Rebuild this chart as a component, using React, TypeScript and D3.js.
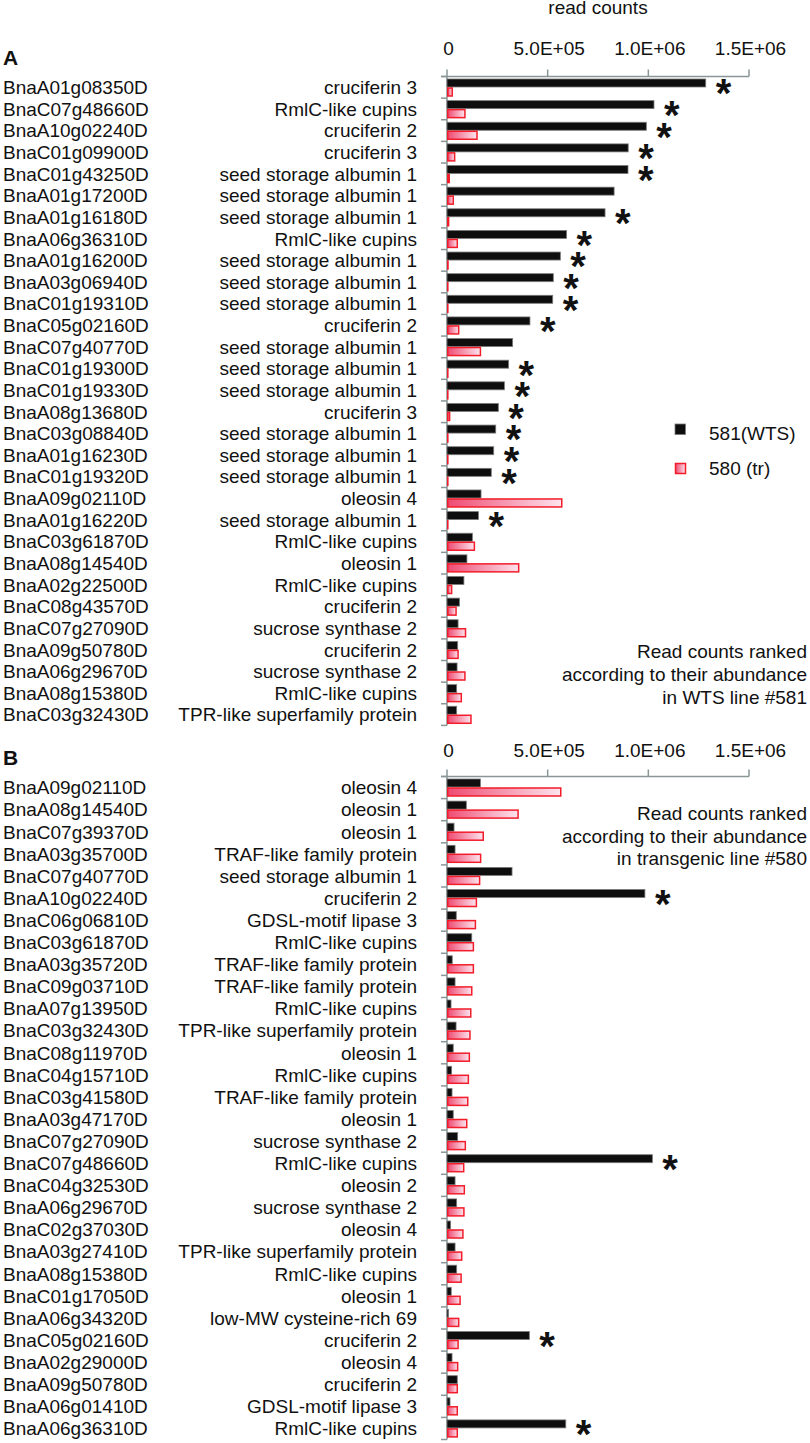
import React from "react";
import * as d3 from "d3";

// ---------- Data ----------
const tickValues = [0, 5e5, 1e6, 1.5e6];
const tickLabels = ["0", "5.0E+05", "1.0E+06", "1.5E+06"];
const seriesNames = ["581(WTS)", "580 (tr)"];

const idsA = [
  "BnaA01g08350D", "BnaC07g48660D", "BnaA10g02240D", "BnaC01g09900D", "BnaC01g43250D",
  "BnaA01g17200D", "BnaA01g16180D", "BnaA06g36310D", "BnaA01g16200D", "BnaA03g06940D",
  "BnaC01g19310D", "BnaC05g02160D", "BnaC07g40770D", "BnaC01g19300D", "BnaC01g19330D",
  "BnaA08g13680D", "BnaC03g08840D", "BnaA01g16230D", "BnaC01g19320D", "BnaA09g02110D",
  "BnaA01g16220D", "BnaC03g61870D", "BnaA08g14540D", "BnaA02g22500D", "BnaC08g43570D",
  "BnaC07g27090D", "BnaA09g50780D", "BnaA06g29670D", "BnaA08g15380D", "BnaC03g32430D",
];
const descA = [
  "cruciferin 3", "RmlC-like cupins", "cruciferin 2", "cruciferin 3", "seed storage albumin 1",
  "seed storage albumin 1", "seed storage albumin 1", "RmlC-like cupins", "seed storage albumin 1", "seed storage albumin 1",
  "seed storage albumin 1", "cruciferin 2", "seed storage albumin 1", "seed storage albumin 1", "seed storage albumin 1",
  "cruciferin 3", "seed storage albumin 1", "seed storage albumin 1", "seed storage albumin 1", "oleosin 4",
  "seed storage albumin 1", "RmlC-like cupins", "oleosin 1", "RmlC-like cupins", "cruciferin 2",
  "sucrose synthase 2", "cruciferin 2", "sucrose synthase 2", "RmlC-like cupins", "TPR-like superfamily protein",
];
const wtsA = [
  1285000, 1028000, 990000, 900000, 899000, 830000, 785000, 594000, 563000, 528000,
  525000, 412000, 326000, 306000, 285000, 255000, 242000, 232000, 220000, 169000,
  156000, 126000, 99000, 84000, 62000, 55000, 53000, 50000, 48000, 48000,
];
const trA = [
  26000, 89000, 149000, 38000, 11000, 31000, 8000, 51000, 5000, 3000,
  3000, 58000, 166000, 3000, 1000, 13000, 2000, 1000, 1000, 570000,
  1000, 136000, 356000, 23000, 45000, 92000, 55000, 89000, 71000, 119000,
];
const sigA = [
  1, 1, 1, 1, 1, 0, 1, 1, 1, 1,
  1, 1, 0, 1, 1, 1, 1, 1, 1, 0,
  1, 0, 0, 0, 0, 0, 0, 0, 0, 0,
];

const idsB = [
  "BnaA09g02110D", "BnaA08g14540D", "BnaC07g39370D", "BnaA03g35700D", "BnaC07g40770D",
  "BnaA10g02240D", "BnaC06g06810D", "BnaC03g61870D", "BnaA03g35720D", "BnaC09g03710D",
  "BnaA07g13950D", "BnaC03g32430D", "BnaC08g11970D", "BnaC04g15710D", "BnaC03g41580D",
  "BnaA03g47170D", "BnaC07g27090D", "BnaC07g48660D", "BnaC04g32530D", "BnaA06g29670D",
  "BnaC02g37030D", "BnaA03g27410D", "BnaA08g15380D", "BnaC01g17050D", "BnaA06g34320D",
  "BnaC05g02160D", "BnaA02g29000D", "BnaA09g50780D", "BnaA06g01410D", "BnaA06g36310D",
];
const descB = [
  "oleosin 4", "oleosin 1", "oleosin 1", "TRAF-like family protein", "seed storage albumin 1",
  "cruciferin 2", "GDSL-motif lipase 3", "RmlC-like cupins", "TRAF-like family protein", "TRAF-like family protein",
  "RmlC-like cupins", "TPR-like superfamily protein", "oleosin 1", "RmlC-like cupins", "TRAF-like family protein",
  "oleosin 1", "sucrose synthase 2", "RmlC-like cupins", "oleosin 2", "sucrose synthase 2",
  "oleosin 4", "TPR-like superfamily protein", "RmlC-like cupins", "oleosin 1", "low-MW cysteine-rich 69",
  "cruciferin 2", "oleosin 4", "cruciferin 2", "GDSL-motif lipase 3", "RmlC-like cupins",
];
const wtsB = [
  166000, 96000, 35000, 40000, 323000, 983000, 46000, 123000, 26000, 40000,
  20000, 45000, 31000, 23000, 25000, 31000, 53000, 1020000, 40000, 48000,
  18000, 40000, 48000, 21000, 8000, 409000, 25000, 51000, 15000, 590000,
];
const trB = [
  565000, 353000, 180000, 167000, 162000, 146000, 141000, 131000, 131000, 123000,
  118000, 114000, 111000, 106000, 103000, 98000, 91000, 83000, 86000, 84000,
  79000, 73000, 70000, 65000, 58000, 55000, 53000, 51000, 51000, 51000,
];
const sigB = [
  0, 0, 0, 0, 0, 1, 0, 0, 0, 0,
  0, 0, 0, 0, 0, 0, 0, 1, 0, 0,
  0, 0, 0, 0, 0, 1, 0, 0, 0, 1,
];

// ---------- Styling ----------
const FONT = "'Liberation Sans', Arial, Helvetica, sans-serif";
const AXIS = "#8a9696";
const W = 810;
const H = 1443;

type PanelProps = {
  letter: string;
  ids: string[];
  desc: string[];
  wts: number[];
  tr: number[];
  sig: number[];
  axisY: number;
  step: number;
  tickLabelY: number;
  letterY: number;
  note: string[];
  noteY: number;
  noteStep: number;
  showTitle?: boolean;
  showLegend?: boolean;
};

function Panel(p: PanelProps) {
  const x = d3.scaleLinear().domain([0, 1.5e6]).range([447, 749]);
  const n = p.ids.length;
  const y = d3
    .scaleBand<number>()
    .domain(d3.range(n))
    .range([p.axisY, p.axisY + n * p.step])
    .padding(0);
  const bw = y.bandwidth();
  const x0 = x(0);
  const boundaries = d3.range(n + 1).map((i) => p.axisY + i * bw);

  return (
    <g>
      <text x={3} y={p.letterY} fontFamily={FONT} fontWeight="bold" fontSize={21} fill="#111">
        {p.letter}
      </text>
      {p.showTitle && (
        <text x={598} y={13.5} textAnchor="middle" fontFamily={FONT} fontSize={19} fill="#111">
          read counts
        </text>
      )}
      {/* tick labels */}
      {tickValues.map((v, i) => (
        <text
          key={"tl" + i}
          x={x(v) + 1.5}
          y={p.tickLabelY}
          textAnchor="middle"
          fontFamily={FONT}
          fontSize={19}
          fill="#111"
        >
          {tickLabels[i]}
        </text>
      ))}
      {/* top axis */}
      <line x1={x0 - 6} x2={x(1.5e6)} y1={p.axisY} y2={p.axisY} stroke={AXIS} strokeWidth={1.5} />
      {tickValues.map((v, i) => (
        <line key={"tt" + i} x1={x(v)} x2={x(v)} y1={p.axisY} y2={p.axisY - 7} stroke={AXIS} strokeWidth={1.5} />
      ))}
      {/* left axis */}
      <line x1={x0} x2={x0} y1={p.axisY} y2={p.axisY + n * bw} stroke={AXIS} strokeWidth={1.5} />
      {boundaries.map((b, i) => (
        <line key={"lt" + i} x1={x0 - 6} x2={x0} y1={b} y2={b} stroke={AXIS} strokeWidth={1.5} />
      ))}
      {/* labels */}
      {p.ids.map((id, i) => (
        <text
          key={"id" + i}
          x={3}
          y={(y(i) as number) + bw / 2}
          dy="0.36em"
          fontFamily={FONT}
          fontSize={19}
          fill="#111"
        >
          {id}
        </text>
      ))}
      {p.desc.map((d, i) => (
        <text
          key={"ds" + i}
          x={417}
          y={(y(i) as number) + bw / 2}
          dy="0.36em"
          textAnchor="end"
          fontFamily={FONT}
          fontSize={19}
          fill="#111"
        >
          {d}
        </text>
      ))}
      {/* bars */}
      {p.wts.map((v, i) => (
        <rect
          key={"bk" + i}
          x={x0}
          y={(y(i) as number) + 2.5}
          width={Math.max(0, x(v) - x0)}
          height={8}
          fill="#0e0e0e"
          stroke="#7a7a7a"
          strokeWidth={0.8}
        />
      ))}
      {p.tr.map((v, i) => (
        <rect
          key={"rd" + i}
          x={x0 + 0.75}
          y={(y(i) as number) + 11.5}
          width={Math.max(0.1, x(v) - x0 - 0.75)}
          height={8}
          fill="url(#pinkGrad)"
          stroke="#f21c2a"
          strokeWidth={1.5}
        />
      ))}
      {/* significance */}
      {p.sig.map((s, i) =>
        s ? (
          <text
            key={"st" + i}
            x={x(p.wts[i]) + 10}
            y={(y(i) as number) + bw / 2 - 2 + 22}
            fontFamily={FONT}
            fontWeight="bold"
            fontSize={40}
            fill="#111"
          >
            *
          </text>
        ) : null
      )}
      {/* note */}
      {p.note.map((t, i) => (
        <text
          key={"nt" + i}
          x={807}
          y={p.noteY + i * p.noteStep}
          textAnchor="end"
          fontFamily={FONT}
          fontSize={19}
          fill="#111"
        >
          {t}
        </text>
      ))}
      {p.showLegend && (
        <g>
          <rect x={675} y={424} width={10.5} height={10.5} fill="#0e0e0e" stroke="#7a7a7a" strokeWidth={0.8} />
          <text x={709} y={440} fontFamily={FONT} fontSize={19} fill="#111">
            {seriesNames[0]}
          </text>
          <rect x={675.5} y={463.5} width={10} height={10} fill="url(#pinkGrad)" stroke="#f21c2a" strokeWidth={1.5} />
          <text x={709} y={475} fontFamily={FONT} fontSize={19} fill="#111">
            {seriesNames[1]}
          </text>
        </g>
      )}
    </g>
  );
}

export default function App() {
  return (
    <svg
      width={W}
      height={H}
      viewBox={`0 0 ${W} ${H}`}
      style={{ position: "absolute", left: 0, top: 0, display: "block", background: "#fff" }}
    >
      <defs>
        <linearGradient id="pinkGrad" x1="0" x2="1" y1="0" y2="0">
          <stop offset="0%" stopColor="#ee4b72" />
          <stop offset="100%" stopColor="#fde4ee" />
        </linearGradient>
      </defs>
      <rect x={0} y={0} width={W} height={H} fill="#fff" />
      <Panel
        letter="A"
        ids={idsA}
        desc={descA}
        wts={wtsA}
        tr={trA}
        sig={sigA}
        axisY={76.5}
        step={21.63}
        tickLabelY={55}
        letterY={65}
        note={["Read counts ranked", "according to their abundance", "in WTS line #581"]}
        noteY={658}
        noteStep={23}
        showTitle
        showLegend
      />
      <Panel
        letter="B"
        ids={idsB}
        desc={descB}
        wts={wtsB}
        tr={trB}
        sig={sigB}
        axisY={776.5}
        step={22.1}
        tickLabelY={757}
        letterY={765}
        note={["Read counts ranked", "according to their abundance", "in transgenic line #580"]}
        noteY={820}
        noteStep={22.5}
      />
    </svg>
  );
}
